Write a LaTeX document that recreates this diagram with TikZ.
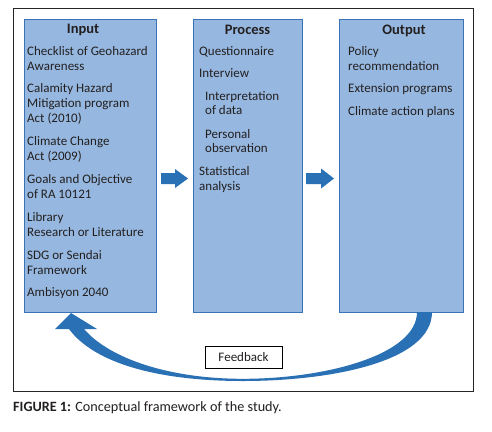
\documentclass[tikz,border=0pt]{standalone}
\usepackage{fontspec}
\setmainfont{Carlito}
\definecolor{boxfill}{RGB}{150,184,224}
\definecolor{boxline}{RGB}{58,115,181}
\definecolor{arrowc}{RGB}{41,112,180}
\definecolor{txt}{RGB}{35,31,32}
\begin{document}
\begin{tikzpicture}[x=1pt,y=-1pt,
  panel/.style={draw=boxline,fill=boxfill,line width=0.9pt},
  item/.style={anchor=base west,inner sep=0pt,text=txt,font=\fontsize{13}{15}\selectfont},
  ttl/.style={anchor=base,inner sep=0pt,text=txt,font=\fontsize{14.5}{17}\selectfont\bfseries},
  fbox/.style={draw=black,fill=white,line width=0.8pt,minimum width=77pt,minimum height=22pt,inner sep=0pt,text=txt,font=\fontsize{13}{15}\selectfont}]
\useasboundingbox (0,0) rectangle (492,431);
\fill[white] (0,0) rectangle (492,431);
\draw[line width=1pt,black!85] (13,8) rectangle (473,391);
% panels
\node[panel,anchor=north west,minimum width=132pt,minimum height=293pt,inner sep=0pt] (in) at (24,19) {};
\node[panel,anchor=north west,minimum width=109pt,minimum height=293pt,inner sep=0pt] (proc) at (193,19) {};
\node[panel,anchor=north west,minimum width=124pt,minimum height=293pt,inner sep=0pt] (out) at (339,19) {};
% titles
\node[ttl] (tin) at (83,33.5) {Input};
\node[ttl] (tproc) at (247.5,34) {Process};
\node[ttl] (tout) at (404,34) {Output};
% input items
\node[item] (i1) at (27,55.5) {Checklist of Geohazard};
\node[item] (i2) at (27,70.5) {Awareness};
\node[item] (i3) at (27,92) {Calamity Hazard};
\node[item] (i4) at (27,107) {Mitigation program};
\node[item] (i5) at (27,122) {Act (2010)};
\node[item] (i6) at (27,145) {Climate Change};
\node[item] (i7) at (27,160) {Act (2009)};
\node[item] (i8) at (27,183) {Goals and Objective};
\node[item] (i9) at (27,198) {of RA 10121};
\node[item] (i10) at (27,221) {Library};
\node[item] (i11) at (27,236) {Research or Literature};
\node[item] (i12) at (27,259) {SDG or Sendai};
\node[item] (i13) at (27,274) {Framework};
\node[item] (i14) at (27,296) {Ambisyon 2040};
% process items
\node[item] (p1) at (199,55.5) {Questionnaire};
\node[item] (p2) at (199,77) {Interview};
\node[item] (p3) at (205,100) {Interpretation};
\node[item] (p4) at (205,114.5) {of data};
\node[item] (p5) at (205,138) {Personal};
\node[item] (p6) at (205,152.5) {observation};
\node[item] (p7) at (199,175.5) {Statistical};
\node[item] (p8) at (199,190.5) {analysis};
% output items
\node[item] (o1) at (348,55.5) {Policy};
\node[item] (o2) at (348,70) {recommendation};
\node[item] (o3) at (348,92.5) {Extension programs};
\node[item] (o4) at (348,115) {Climate action plans};
% block arrows
\fill[arrowc] (161,173) -- (175,173) -- (175,169) -- (188,178.5) -- (175,188) -- (175,184) -- (161,184) -- cycle;
\fill[arrowc] (306,173) -- (321,173) -- (321,168.5) -- (334,178.5) -- (321,188.5) -- (321,184) -- (306,184) -- cycle;
% feedback arrow
\fill[arrowc] (432,312) .. controls (432,362) and (330,381) .. (243,381)
  .. controls (160,381) and (95,364) .. (69,329) -- (55,329) -- (71,313) -- (97,329) -- (84,329)
  .. controls (110,359) and (170,378.8) .. (243,378.8)
  .. controls (325,378.8) and (417,355) .. (417,312) -- cycle;
\node[fbox] (fb) at (243.5,357) {Feedback};
% caption
\node[anchor=base west,inner sep=0pt,text=txt,font=\fontsize{14.2}{17}\selectfont] (cap) at (13,411) {\textbf{FIGURE 1:} Conceptual framework of the study.};
\end{tikzpicture}
\end{document}
